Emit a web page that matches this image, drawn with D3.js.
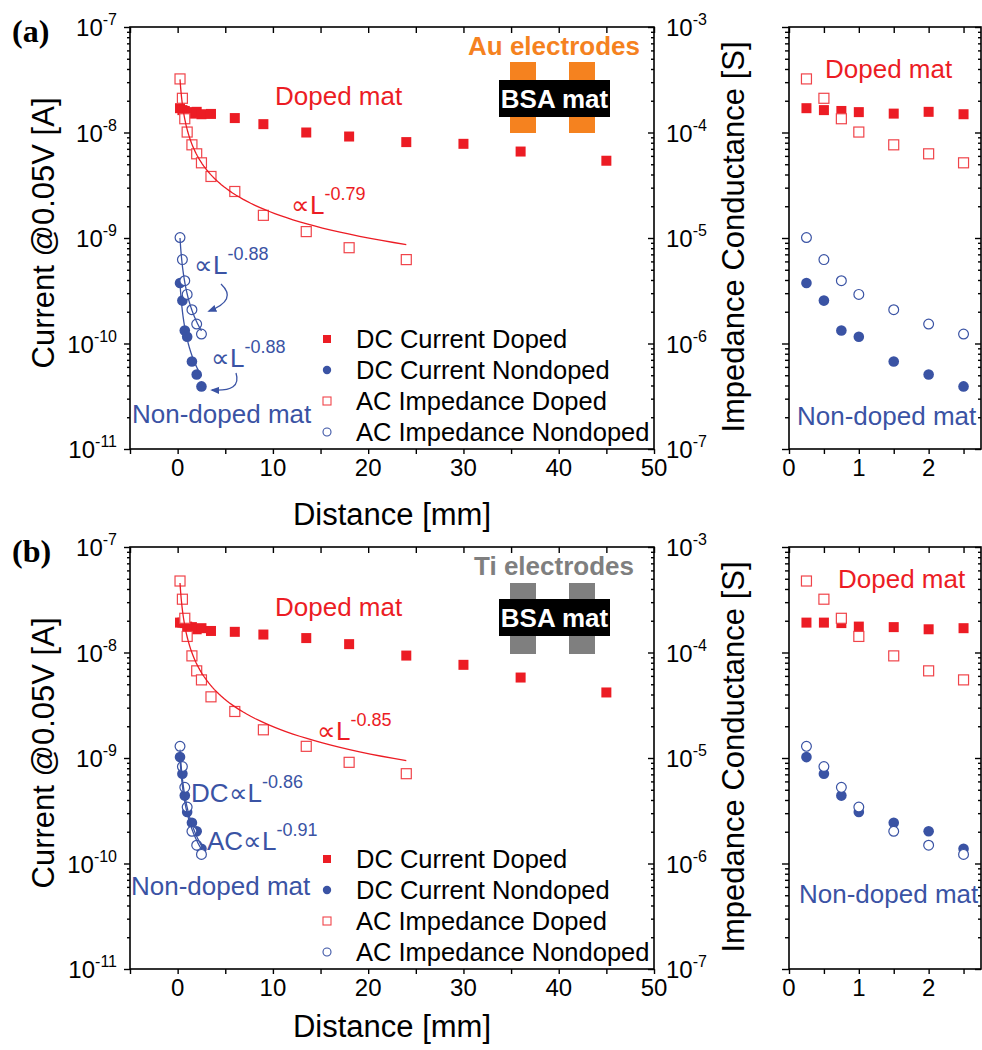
<!DOCTYPE html>
<html><head><meta charset="utf-8">
<script src="https://cdn.jsdelivr.net/npm/d3@7"></script>
<style>
body{margin:0;background:#fff}
text{font-family:Arial,"Liberation Sans",sans-serif}
</style>
</head><body>
<svg id="c" width="982" height="1050"></svg>
<script>
// ---------------- DATA ----------------
const distLong = [0.25,0.5,0.75,1,1.5,2,2.5,3.5,6,9,13.5,18,24,30,36,45];   // DC doped distances [mm]
const distAC   = [0.25,0.5,0.75,1,1.5,2,2.5,3.5,6,9,13.5,18,24];           // AC doped distances [mm]
const distShort= [0.25,0.5,0.75,1,1.5,2,2.5];                               // nondoped distances [mm]

// Panel (a) Au electrodes
const aDcDoped    = [1.70e-8,1.63e-8,1.60e-8,1.56e-8,1.51e-8,1.57e-8,1.49e-8,1.50e-8,1.37e-8,1.20e-8,1.00e-8,9.16e-9,8.11e-9,7.81e-9,6.6e-9,5.4e-9]; // A
const aAcDoped    = [3.22e-4,2.11e-4,1.35e-4,1.01e-4,7.64e-5,6.28e-5,5.16e-5,3.83e-5,2.76e-5,1.64e-5,1.15e-5,8.09e-6,6.24e-6]; // S
const aDcNondoped = [3.75e-10,2.55e-10,1.33e-10,1.16e-10,6.75e-11,5.08e-11,3.92e-11]; // A
const aAcNondoped = [1.01e-5,6.24e-6,3.94e-6,2.92e-6,2.09e-6,1.53e-6,1.23e-6];        // S

// Panel (b) Ti electrodes
const bDcDoped    = [1.92e-8,1.92e-8,1.90e-8,1.76e-8,1.74e-8,1.66e-8,1.70e-8,1.60e-8,1.57e-8,1.48e-8,1.37e-8,1.20e-8,9.35e-9,7.64e-9,5.79e-9,4.18e-9];
const bAcDoped    = [4.76e-4,3.20e-4,2.11e-4,1.42e-4,9.29e-5,6.70e-5,5.50e-5,3.80e-5,2.76e-5,1.85e-5,1.29e-5,9.1e-6,7.1e-6];
const bDcNondoped = [1.02e-9,7.1e-10,4.4e-10,3.08e-10,2.43e-10,2.02e-10,1.38e-10];
const bAcNondoped = [1.29e-5,8.3e-6,5.27e-6,3.43e-6,2.02e-6,1.49e-6,1.22e-6];

// power-law fits  y = k * L^p over [from, to]
const aFitDopedAC    = {k:1.067e-4, p:-0.79, from:0.25, to:24, axis:"G"};
const aFitNondopedAC = {k:2.95e-6,  p:-0.88, from:0.25, to:2.5, axis:"G"};
const aFitNondopedDC = {k:1.10e-10, p:-0.88, from:0.25, to:2.5, axis:"I"};
const bFitDopedAC    = {k:1.405e-4, p:-0.85, from:0.25, to:24, axis:"G"};
const bFitNondopedAC = {k:3.4e-6,   p:-0.91, from:0.25, to:2.5, axis:"G"};
const bFitNondopedDC = {k:3.0e-10,  p:-0.86, from:0.25, to:2.5, axis:"I"};

// ticks & labels
const xTicksMain  = [0,10,20,30,40,50];
const xTicksMainAll = [-5,0,5,10,15,20,25,30,35,40,45,50];
const xTicksInset = [0,1,2];
const xTicksInsetAll = [0,0.5,1,1.5,2,2.5];
const yExpCurrent = [-7,-8,-9,-10,-11];
const yExpCond    = [-3,-4,-5,-6,-7];
const legendLabels = ["DC Current Doped","DC Current Nondoped","AC Impedance Doped","AC Impedance Nondoped"];

// ---------------- STYLE ----------------
const RED = "#EC1C24", RED2 = "#F0444A", BLUE = "#3A53A4", ORANGE = "#F5821F", GRAY = "#7F7F7F";
const svg = d3.select("#c");

svg.append("defs").append("marker")
  .attr("id","arrB").attr("viewBox","0 0 10 10").attr("refX",8).attr("refY",5)
  .attr("markerWidth",7).attr("markerHeight",7).attr("orient","auto-start-reverse")
  .append("path").attr("d","M0,1 L10,5 L0,9 Z").attr("fill",BLUE);

function minorLog(e0,e1){const o=[];for(let e=e0;e<e1;e++)for(let k=2;k<=9;k++)o.push(k*Math.pow(10,e));return o;}

function supText(parent, x, y, base, sup, o){
  const t = parent.append("text").attr("x",x).attr("y",y)
    .attr("fill",o.fill||"#000").attr("font-size",o.size).attr("text-anchor",o.anchor||"start");
  if(o.weight) t.attr("font-weight",o.weight);
  t.append("tspan").text(base);
  t.append("tspan").attr("dy",-(o.supDy||o.size*0.45)).attr("font-size",o.supSize||o.size*0.65).text(sup);
  return t;
}

function axisStyle(g){ g.select(".domain").remove(); g.selectAll("line").attr("stroke","#000").attr("stroke-width",1.4); g.selectAll("text").remove(); }

function panel(cfg){
  const top = cfg.top, bot = top + 422;
  const x  = d3.scaleLinear().domain([-5,50]).range([130,654]);
  const yI = d3.scaleLog().domain([1e-11,1e-7]).range([bot,top]);
  const yG = d3.scaleLog().domain([1e-7,1e-3]).range([bot,top]);
  const xi = d3.scaleLinear().domain([0,2.75]).range([789,981]);
  const g = svg.append("g");

  // ---- main axes ----
  g.append("g").attr("transform",`translate(0,${bot})`).call(d3.axisBottom(x).tickValues(xTicksMainAll).tickSizeOuter(0).tickSize(5)).call(axisStyle);
  g.append("g").attr("transform",`translate(0,${top})`).call(d3.axisBottom(x).tickValues(xTicksMainAll).tickSizeOuter(0).tickSize(6)).call(axisStyle);
  const majI = yExpCurrent.map(e=>Math.pow(10,e)), majG = yExpCond.map(e=>Math.pow(10,e));
  g.append("g").attr("transform","translate(130,0)").call(d3.axisLeft(yI).tickValues(majI).tickSizeOuter(0).tickSize(6)).call(axisStyle);
  g.append("g").attr("transform","translate(130,0)").call(d3.axisLeft(yI).tickValues(minorLog(-11,-7)).tickSizeOuter(0).tickSize(3)).call(axisStyle);
  g.append("g").attr("transform","translate(654,0)").call(d3.axisLeft(yG).tickValues(majG).tickSizeOuter(0).tickSize(6)).call(axisStyle);
  g.append("g").attr("transform","translate(654,0)").call(d3.axisLeft(yG).tickValues(minorLog(-7,-3)).tickSizeOuter(0).tickSize(3)).call(axisStyle);
  g.append("rect").attr("x",130).attr("y",top).attr("width",524).attr("height",bot-top)
    .attr("fill","none").attr("stroke","#000").attr("stroke-width",1.6);

  // ---- inset axes ----
  g.append("g").attr("transform",`translate(0,${bot})`).call(d3.axisBottom(xi).tickValues(xTicksInsetAll).tickSizeOuter(0).tickSize(5)).call(axisStyle);
  g.append("g").attr("transform",`translate(0,${top})`).call(d3.axisBottom(xi).tickValues(xTicksInsetAll).tickSizeOuter(0).tickSize(6)).call(axisStyle);
  g.append("g").attr("transform","translate(789,0)").call(d3.axisLeft(yG).tickValues(majG).tickSizeOuter(0).tickSize(7)).call(axisStyle);
  g.append("g").attr("transform","translate(789,0)").call(d3.axisLeft(yG).tickValues(minorLog(-7,-3)).tickSizeOuter(0).tickSize(4)).call(axisStyle);
  g.append("g").attr("transform","translate(981,0)").call(d3.axisLeft(yG).tickValues(majG).tickSizeOuter(0).tickSize(6)).call(axisStyle);
  g.append("g").attr("transform","translate(981,0)").call(d3.axisLeft(yG).tickValues(minorLog(-7,-3)).tickSizeOuter(0).tickSize(3)).call(axisStyle);
  g.append("rect").attr("x",789).attr("y",top).attr("width",192).attr("height",bot-top)
    .attr("fill","none").attr("stroke","#000").attr("stroke-width",1.6);

  // ---- tick labels ----
  xTicksMain.forEach(v=>g.append("text").attr("x",x(v)).attr("y",bot+27).attr("text-anchor","middle").attr("font-size",24).text(v));
  xTicksInset.forEach(v=>g.append("text").attr("x",xi(v)).attr("y",bot+27).attr("text-anchor","middle").attr("font-size",24).text(v));
  yExpCurrent.forEach(e=>supText(g,117,yI(Math.pow(10,e))+9,"10",String(e),{size:24,supSize:16,supDy:11,anchor:"end"}));
  yExpCond.forEach(e=>supText(g,666,yG(Math.pow(10,e))+9,"10",String(e),{size:24,supSize:16,supDy:11}));

  // ---- axis titles ----
  g.append("text").attr("transform",`translate(54,${top+206}) rotate(-90)`).attr("text-anchor","middle").attr("font-size",31).text("Current @0.05V [A]");
  g.append("text").attr("transform",`translate(744,${top+210}) rotate(-90)`).attr("text-anchor","middle").attr("font-size",31).text("Impedance Conductance [S]");
  g.append("text").attr("x",392).attr("y",bot+cfg.titleDy).attr("text-anchor","middle").attr("font-size",31).text("Distance [mm]");
  g.append("text").attr("x",12).attr("y",top+15)
    .style("font-family","'Liberation Serif','Times New Roman',serif")
    .attr("font-weight","bold").attr("font-size",32).text(cfg.label);

  // ---- markers ----
  const S = 10, R = 5.3;
  const sq = (sel, xs, ys, sx, sy, filled, color) => sel.selectAll(null).data(ys).join("rect")
      .attr("x",(d,i)=>sx(xs[i])-S/2).attr("y",d=>sy(d)-S/2).attr("width",S).attr("height",S)
      .attr("fill",filled?color:"#fff").attr("stroke",filled?"none":color).attr("stroke-width",1.2);
  const ci = (sel, xs, ys, sx, sy, filled, color) => sel.selectAll(null).data(ys).join("circle")
      .attr("cx",(d,i)=>sx(xs[i])).attr("cy",d=>sy(d)).attr("r",filled?R:R-0.4)
      .attr("fill",filled?color:"#fff").attr("stroke",filled?"none":color).attr("stroke-width",1.2);

  [[x,"main"],[xi,"inset"]].forEach(([sx,kind])=>{
    const gg = g.append("g");
    const nL = kind==="main"?distLong.length:distShort.length;
    const nA = kind==="main"?distAC.length:distShort.length;
    sq(gg.append("g"), distLong, cfg.dcDoped.slice(0,nL), sx, yI, true, RED);
    ci(gg.append("g"), distShort, cfg.dcNondoped, sx, yI, true, BLUE);
    sq(gg.append("g"), distAC, cfg.acDoped.slice(0,nA), sx, yG, false, RED2);
    ci(gg.append("g"), distShort, cfg.acNondoped, sx, yG, false, BLUE);
  });

  // ---- fits ----
  cfg.fits.forEach(f=>{
    const pts = d3.range(0,81).map(i=>{const L=f.from*Math.pow(f.to/f.from,i/80);return [L,f.k*Math.pow(L,f.p)];});
    const ys = f.axis==="G"?yG:yI;
    g.append("path").attr("d",d3.line().x(d=>x(d[0])).y(d=>ys(d[1]))(pts))
      .attr("fill","none").attr("stroke",f.color).attr("stroke-width",1.3);
  });

  // ---- legend ----
  const lg = g.append("g");
  legendLabels.forEach((t,i)=>{
    const ly = cfg.legendY[i];
    if(i===0) lg.append("rect").attr("x",323).attr("y",ly-4).attr("width",8).attr("height",8).attr("fill",RED);
    if(i===1) lg.append("circle").attr("cx",327).attr("cy",ly).attr("r",4.2).attr("fill",BLUE);
    if(i===2) lg.append("rect").attr("x",323).attr("y",ly-4).attr("width",8).attr("height",8).attr("fill","#fff").attr("stroke",RED2).attr("stroke-width",1.1);
    if(i===3) lg.append("circle").attr("cx",327).attr("cy",ly).attr("r",4).attr("fill","#fff").attr("stroke",BLUE).attr("stroke-width",1.1);
    lg.append("text").attr("x",356).attr("y",ly+9).attr("font-size",25.5).text(t);
  });

  // ---- electrode sketch ----
  const el = cfg.electrode;
  g.append("text").attr("x",554).attr("y",el.titleY).attr("text-anchor","middle").attr("font-size",26)
    .attr("font-weight","bold").attr("fill",el.color).text(el.title);
  [510,569].forEach(ex=>g.append("rect").attr("x",ex).attr("y",el.padY).attr("width",26).attr("height",71).attr("fill",el.color));
  g.append("rect").attr("x",499).attr("y",el.boxY).attr("width",111).attr("height",37).attr("fill","#000");
  g.append("text").attr("x",554.5).attr("y",el.boxY+28).attr("text-anchor","middle").attr("font-size",26)
    .attr("font-weight","bold").attr("fill","#fff").text("BSA mat");

  // ---- annotations ----
  cfg.notes.forEach(n=>{
    if(n.sup) supText(g,n.x,n.y,n.text,n.sup,{size:n.size||26,supSize:18,supDy:14,fill:n.color});
    else g.append("text").attr("x",n.x).attr("y",n.y).attr("font-size",n.size||26).attr("fill",n.color).text(n.text);
  });
  (cfg.arrows||[]).forEach(a=>g.append("path").attr("d",a).attr("fill","none").attr("stroke",BLUE)
    .attr("stroke-width",1.3).attr("marker-end","url(#arrB)"));
}

panel({
  top:27, label:"(a)", titleDy:76,
  dcDoped:aDcDoped, acDoped:aAcDoped, dcNondoped:aDcNondoped, acNondoped:aAcNondoped,
  fits:[{...aFitDopedAC,color:RED},{...aFitNondopedAC,color:BLUE},{...aFitNondopedDC,color:BLUE}],
  legendY:[339,370,401,432],
  electrode:{title:"Au electrodes",color:ORANGE,titleY:55,padY:62,boxY:80},
  notes:[
    {x:275,y:105,text:"Doped mat",color:RED},
    {x:291,y:214,text:"\u221DL",sup:"-0.79",color:RED},
    {x:194,y:274,text:"\u221DL",sup:"-0.88",color:BLUE},
    {x:211,y:367,text:"\u221DL",sup:"-0.88",color:BLUE},
    {x:132,y:423,text:"Non-doped mat",color:BLUE},
    {x:825,y:78,text:"Doped mat",color:RED},
    {x:797,y:425,text:"Non-doped mat",color:BLUE}
  ],
  arrows:["M221,284 Q238,300 209,311","M236,373 Q242,392 212,390"]
});

panel({
  top:547, label:"(b)", titleDy:68,
  dcDoped:bDcDoped, acDoped:bAcDoped, dcNondoped:bDcNondoped, acNondoped:bAcNondoped,
  fits:[{...bFitDopedAC,color:RED},{...bFitNondopedAC,color:BLUE},{...bFitNondopedDC,color:BLUE}],
  legendY:[859,890,921,952],
  electrode:{title:"Ti electrodes",color:GRAY,titleY:575,padY:583,boxY:599},
  notes:[
    {x:275,y:616,text:"Doped mat",color:RED},
    {x:317,y:740,text:"\u221DL",sup:"-0.85",color:RED},
    {x:191,y:802,text:"DC\u221DL",sup:"-0.86",color:BLUE},
    {x:207,y:850,text:"AC\u221DL",sup:"-0.91",color:BLUE},
    {x:131,y:895,text:"Non-doped mat",color:BLUE},
    {x:838,y:588,text:"Doped mat",color:RED},
    {x:799,y:903,text:"Non-doped mat",color:BLUE}
  ]
});
</script>
</body></html>
